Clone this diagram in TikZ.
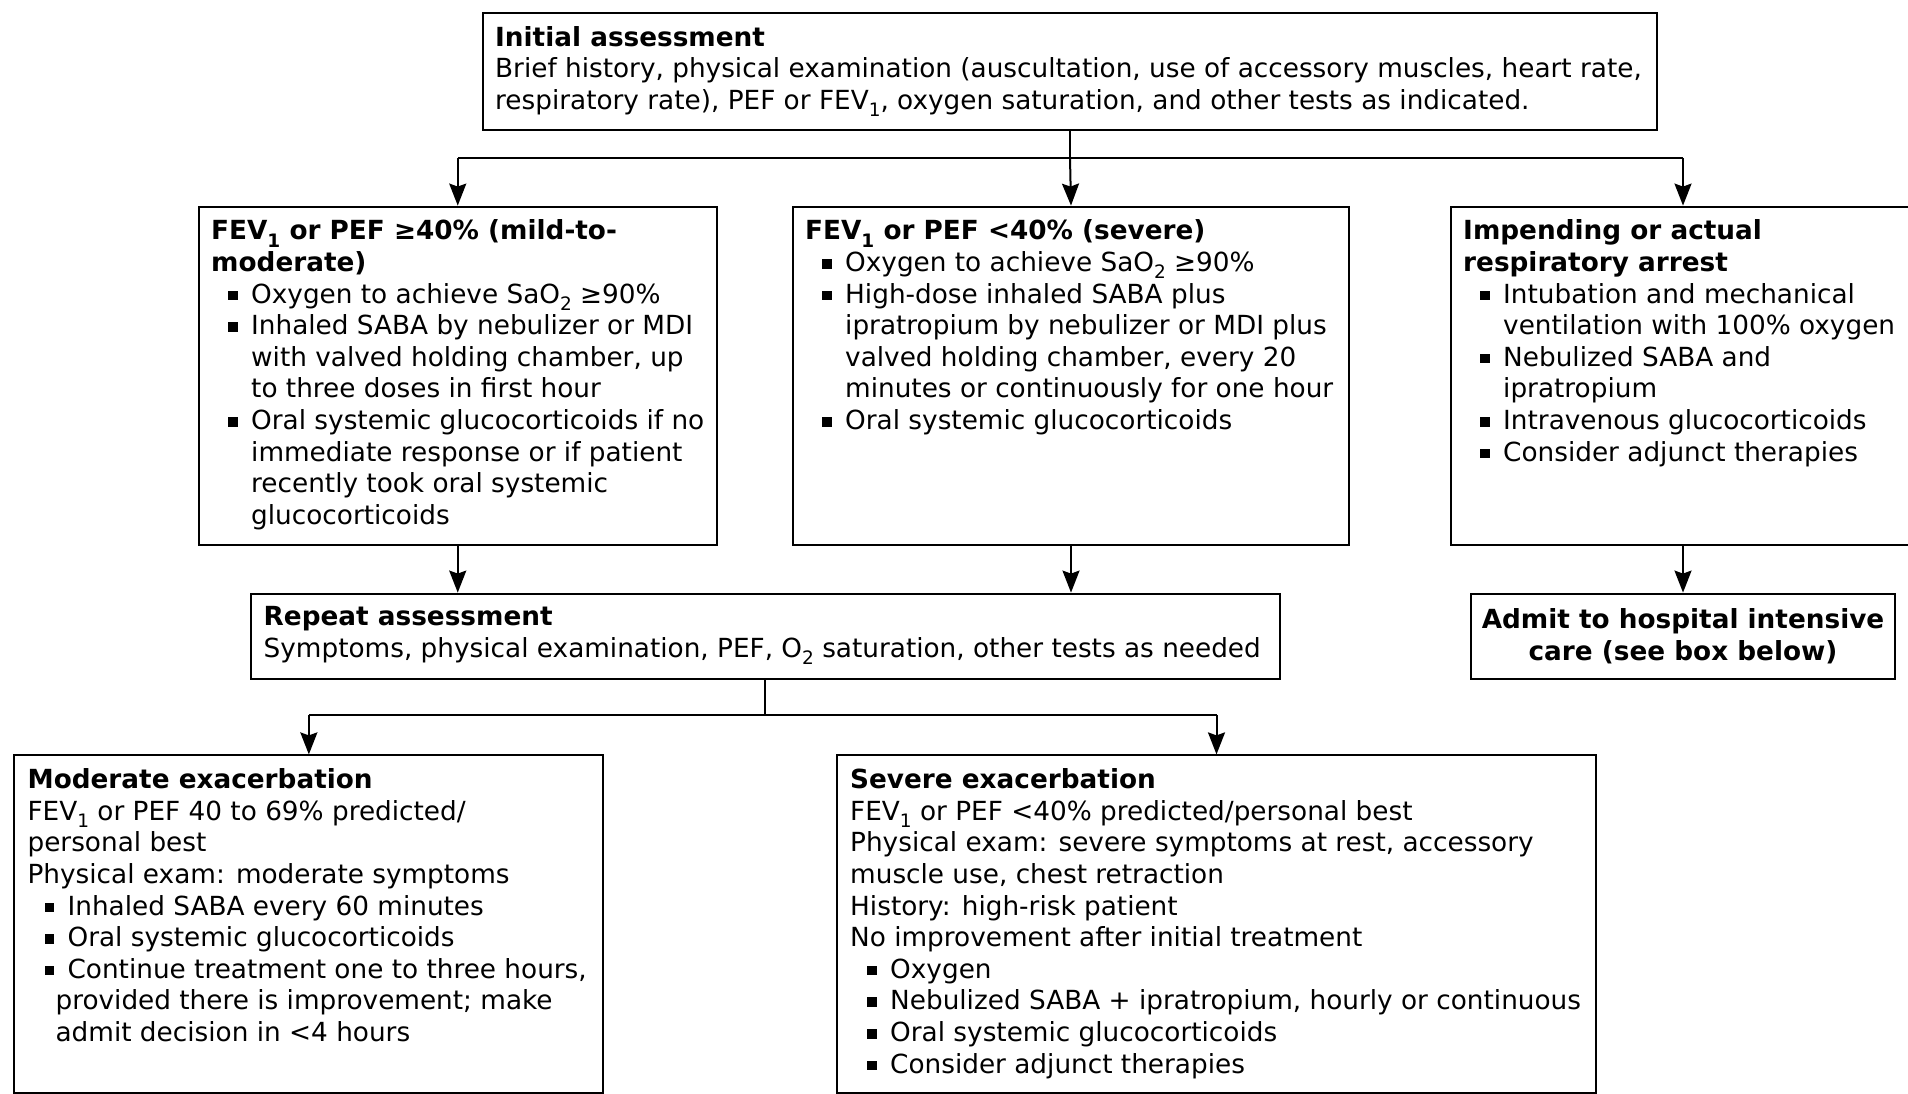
\documentclass[tikz,border=0pt]{standalone}
\usepackage{fontspec}
\setmainfont{DejaVu Sans}
\usetikzlibrary{arrows.meta}
\newcommand\lo[1]{\raisebox{-0.28em}{\fontsize{18.5}{18.5}\selectfont #1}}
\newcommand\bul{\makebox[40pt][l]{\hspace{17pt}\rule[3pt]{9.5pt}{9.5pt}}}
\newcommand\cont{\makebox[40pt]{}}
\newcommand\mcont{\makebox[28pt]{}}
\tikzset{
  box/.style={draw, line width=2pt, rectangle, inner sep=0pt, anchor=north west},
  txt/.style={anchor=north west, align=left, inner sep=0pt, font=\fontsize{26.3}{31.6}\selectfont},
  conn/.style={line width=2pt},
  arr/.style={conn, -{Stealth[length=22pt,width=17pt,inset=3pt]}}
}
\begin{document}
\begin{tikzpicture}[x=1pt,y=-1pt]
\useasboundingbox (0,0) rectangle (1908,1094);
% boxes
\node[box, minimum width=1174pt, minimum height=117pt] (init) at (482,12) {};
\node[box, minimum width=517.5pt, minimum height=338.4pt] (mild) at (198,205.6) {};
\node[box, minimum width=556pt, minimum height=338.4pt] (sev) at (792,205.6) {};
\node[box, minimum width=464pt, minimum height=338.4pt] (arrest) at (1450,205.6) {};
\node[box, minimum width=1029.5pt, minimum height=85.2pt] (rep) at (249.5,592.6) {};
\node[box, anchor=north, minimum width=424.7pt, minimum height=85.2pt, align=center,
      font=\fontsize{26.3}{31.6}\selectfont\bfseries] (admit) at (arrest.south |- 0,592.6)
      {Admit to hospital intensive\\care (see box below)};
\node[box, minimum width=588.9pt, minimum height=337.1pt] (mod) at (13.4,754.4) {};
\node[box, minimum width=759pt, minimum height=337.1pt] (sevx) at (836,754.4) {};
% texts
\node[txt] (initT) at ([xshift=13pt,yshift=-12pt]init.north west)
 {\strut\textbf{Initial assessment}\\
  Brief history, physical examination (auscultation, use of accessory muscles, heart rate,\\
  respiratory rate), PEF or FEV\lo{1}, oxygen saturation, and other tests as indicated.};
\node[txt] (mildT) at ([xshift=13pt,yshift=-12pt]mild.north west)
 {\strut\textbf{FEV\lo{1} or PEF ≥40\% (mild-to-}\\
  \textbf{moderate)}\\
  \bul Oxygen to achieve SaO\lo{2} ≥90\%\\
  \bul Inhaled SABA by nebulizer or MDI\\
  \cont with valved holding chamber, up\\
  \cont to three doses in first hour\\
  \bul Oral systemic glucocorticoids if no\\
  \cont immediate response or if patient\\
  \cont recently took oral systemic\\
  \cont glucocorticoids};
\node[txt] (sevT) at ([xshift=13pt,yshift=-12pt]sev.north west)
 {\strut\textbf{FEV\lo{1} or PEF <40\% (severe)}\\
  \bul Oxygen to achieve SaO\lo{2} ≥90\%\\
  \bul High-dose inhaled SABA plus\\
  \cont ipratropium by nebulizer or MDI plus\\
  \cont valved holding chamber, every 20\\
  \cont minutes or continuously for one hour\\
  \bul Oral systemic glucocorticoids};
\node[txt] (arrestT) at ([xshift=13pt,yshift=-12pt]arrest.north west)
 {\strut\textbf{Impending or actual}\\
  \textbf{respiratory arrest}\\
  \bul Intubation and mechanical\\
  \cont ventilation with 100\% oxygen\\
  \bul Nebulized SABA and\\
  \cont ipratropium\\
  \bul Intravenous glucocorticoids\\
  \bul Consider adjunct therapies};
\node[txt] (repT) at ([xshift=14pt,yshift=-11pt]rep.north west)
 {\strut\textbf{Repeat assessment}\\
  Symptoms, physical examination, PEF, O\lo{2} saturation, other tests as needed};
\node[txt] (modT) at ([xshift=14pt,yshift=-12pt]mod.north west)
 {\strut\textbf{Moderate exacerbation}\\
  FEV\lo{1} or PEF 40 to 69\% predicted/\\
  personal best\\
  Physical exam: moderate symptoms\\
  \bul Inhaled SABA every 60 minutes\\
  \bul Oral systemic glucocorticoids\\
  \bul Continue treatment one to three hours,\\
  \mcont provided there is improvement; make\\
  \mcont admit decision in <4 hours};
\node[txt] (sevxT) at ([xshift=14pt,yshift=-12pt]sevx.north west)
 {\strut\textbf{Severe exacerbation}\\
  FEV\lo{1} or PEF <40\% predicted/personal best\\
  Physical exam: severe symptoms at rest, accessory\\
  muscle use, chest retraction\\
  History: high-risk patient\\
  No improvement after initial treatment\\
  \bul Oxygen\\
  \bul Nebulized SABA + ipratropium, hourly or continuous\\
  \bul Oral systemic glucocorticoids\\
  \bul Consider adjunct therapies};
% connectors
\coordinate (j1) at (init.south |- 0,158);
\coordinate (jl) at (mild.north |- j1);
\coordinate (jr) at (arrest.north |- j1);
\draw[conn] (init.south) -- (j1);
\draw[conn] (jl) -- (jr);
\draw[arr] (jl) -- (mild.north);
\draw[arr] (j1) -- (sev.north);
\draw[arr] (jr) -- (arrest.north);
\draw[arr] (mild.south) -- (mild.south |- rep.north);
\draw[arr] (sev.south) -- (sev.south |- rep.north);
\draw[arr] (arrest.south) -- (admit.north);
\path (rep.south) ++(0,35) coordinate (j2);
\coordinate (j2l) at (mod.north |- j2);
\coordinate (j2r) at (sevx.north |- j2);
\draw[conn] (rep.south) -- (j2);
\draw[conn] (j2l) -- (j2r);
\draw[arr] (j2l) -- (mod.north);
\draw[arr] (j2r) -- (sevx.north);
\end{tikzpicture}
\end{document}
